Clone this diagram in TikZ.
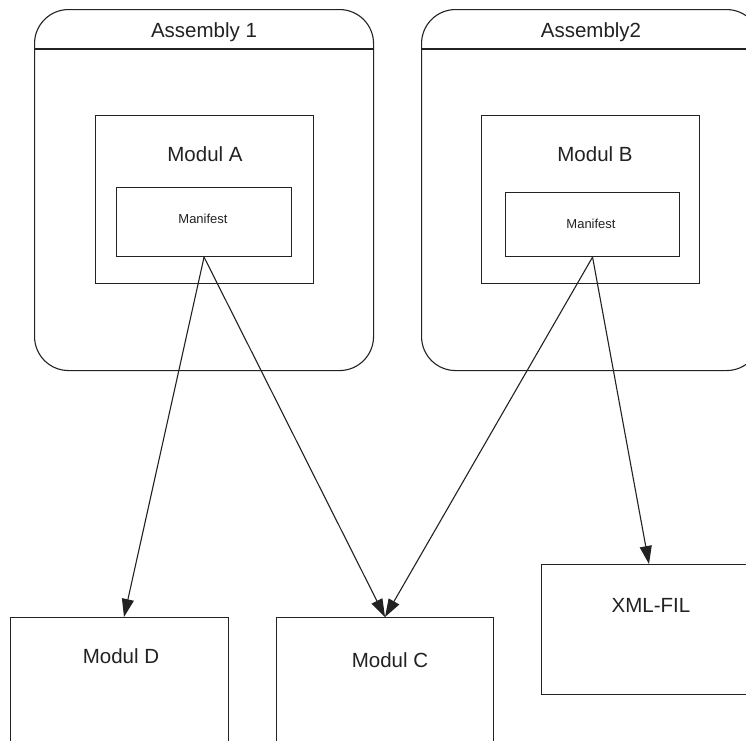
\documentclass[tikz,border=0pt]{standalone}
\usepackage{fontspec}
\setmainfont{Liberation Sans}
\usetikzlibrary{arrows.meta}
\definecolor{ink}{HTML}{222222}
\tikzset{
  asmbox/.style={draw=ink, line width=1.1pt, rounded corners=34pt, anchor=north west, inner sep=0pt},
  plainbox/.style={draw=ink, line width=1.1pt, anchor=north west, inner sep=0pt},
  bigtxt/.style={text=ink, font=\fontsize{20.5}{24}\selectfont, anchor=base, inner sep=0pt},
  smalltxt/.style={text=ink, font=\fontsize{13}{15}\selectfont, anchor=base, inner sep=0pt},
  dep/.style={draw=ink, line width=1.1pt, -{Triangle[length=18pt,width=12pt]}, shorten >=0pt}
}
\begin{document}
\begin{tikzpicture}[x=1pt,y=-1pt]
\useasboundingbox (0,0) rectangle (746,740);
\clip (0,0) rectangle (746,740);
\fill[white] (0,0) rectangle (746,740);

% assemblies
\node[asmbox, minimum width=339pt, minimum height=361pt] (asm1) at (34,9) {};
\node[asmbox, minimum width=339pt, minimum height=361pt] (asm2) at (421,9) {};
\draw[draw=ink, line width=1.1pt] ([yshift=-40pt]asm1.north west) -- ([yshift=-40pt]asm1.north east);
\draw[draw=ink, line width=1.1pt] ([yshift=-40pt]asm2.north west) -- ([yshift=-40pt]asm2.north east);
\node[bigtxt] (asm1t) at (204,37) {Assembly 1};
\node[bigtxt] (asm2t) at (591,37) {Assembly2};

% modules inside the assemblies
\node[plainbox, minimum width=218pt, minimum height=168pt] (modA) at (95,115) {};
\node[plainbox, minimum width=218pt, minimum height=168pt] (modB) at (481,115) {};
\node[bigtxt] (modAt) at (205,161) {Modul A};
\node[bigtxt] (modBt) at (595,161) {Modul B};

% manifests
\node[plainbox, minimum width=175pt, minimum height=69pt] (manA) at (116,187) {};
\node[plainbox, minimum width=174pt, minimum height=64pt] (manB) at (505,192) {};
\node[smalltxt] (manAt) at (203,223) {Manifest};
\node[smalltxt] (manBt) at (591,228) {Manifest};

% referenced modules and file
\node[plainbox, minimum width=218.5pt, minimum height=200pt] (modD) at (9.5,617) {};
\node[plainbox, minimum width=217pt, minimum height=200pt] (modC) at (276,617) {};
\node[plainbox, minimum width=250pt, minimum height=130pt] (xml) at (541,564) {};
\node[bigtxt] (modDt) at (121,663) {Modul D};
\node[bigtxt] (modCt) at (390,667) {Modul C};
\node[bigtxt] (xmlt) at (651,612) {XML-FIL};

% arrow end points on the top edges
\coordinate (dIn) at ([xshift=114.5pt]modD.north west);
\coordinate (cIn) at ([xshift=109pt]modC.north west);
\coordinate (xIn) at ([xshift=108pt]xml.north west);

% dependencies
\draw[dep] (manA.south) -- (dIn);
\draw[dep] (manA.south) -- (cIn);
\draw[dep] (manB.south) -- (cIn);
\draw[dep] (manB.south) -- (xIn);
\end{tikzpicture}
\end{document}
